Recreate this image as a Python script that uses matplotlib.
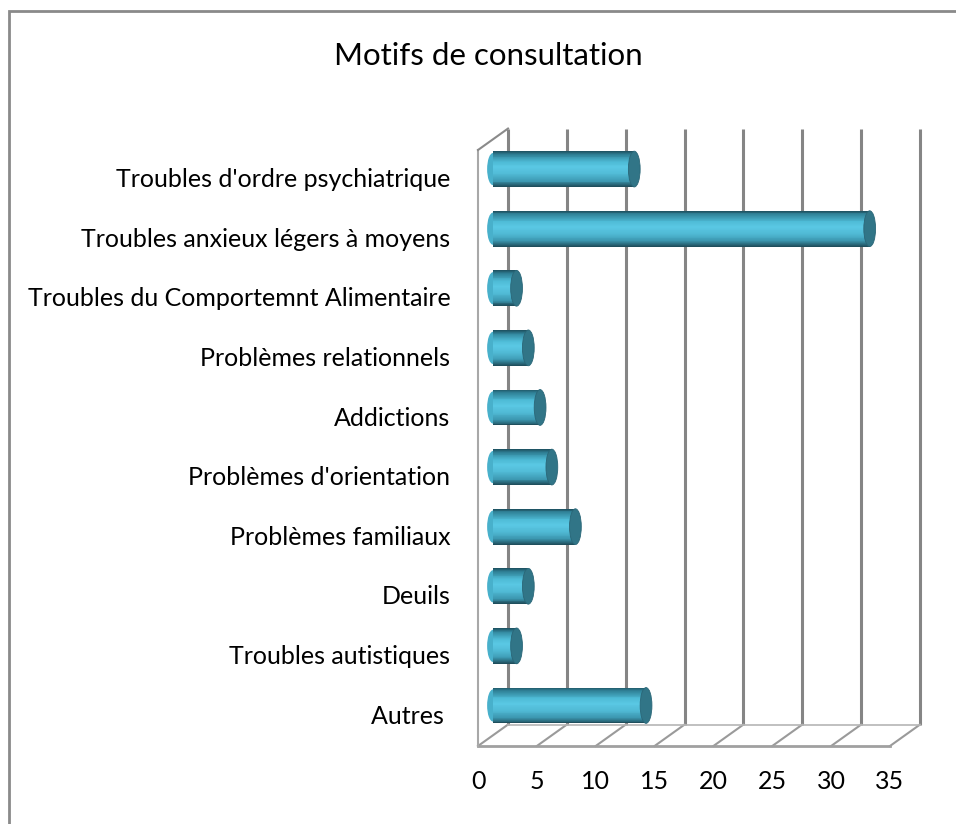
import matplotlib
matplotlib.use("Agg")
import matplotlib.pyplot as plt
from matplotlib.patches import Ellipse, Rectangle
from matplotlib.colors import LinearSegmentedColormap

# Data (bottom to top as drawn)
categories = ["Autres ", "Troubles autistiques", "Deuils", "Problèmes familiaux",
              "Problèmes d'orientation", "Addictions", "Problèmes relationnels",
              "Troubles du Comportemnt Alimentaire", "Troubles anxieux légers à moyens",
              "Troubles d'ordre psychiatrique"]
values = [13, 2, 3, 7, 5, 4, 3, 2, 32, 12]
ticks = [0, 5, 10, 15, 20, 25, 30, 35]

plt.rcParams['font.family'] = ['Lato', 'DejaVu Sans']

W, H = 956, 824
fig = plt.figure(figsize=(W / 100, H / 100), dpi=100)

# chart frame
fig.patches.append(Rectangle((9 / W, -0.1), 1.2, (H - 11) / H + 0.1, transform=fig.transFigure,
                             fill=False, edgecolor="#8a8a8a", linewidth=2))
fig.text(488 / W, 1 - 56 / H, "Motifs de consultation", ha="center", va="center", fontsize=22.5)

# front plane of the 3D box
ax = fig.add_axes([478 / W, 78 / H, 412 / W, 596 / H])
ax.set_xlim(0, 35)
ax.set_ylim(-0.5, len(categories) - 0.5)
ax.axis("off")

dx, dy = 2.55, 0.36   # depth offset (back wall vs. front)
ytop = len(categories) - 0.5
ybot = -0.5

# back wall gridlines
for t in ticks:
    ax.plot([t + dx, t + dx], [ybot + dy, ytop + dy], color="#858585", lw=2.2,
            clip_on=False, solid_capstyle="butt", zorder=1)
    ax.plot([t, t + dx], [ybot, ybot + dy], color="#9a9a9a", lw=1.5, clip_on=False, zorder=1)
# floor edges
ax.plot([0, 35], [ybot, ybot], color="#a0a0a0", lw=2, clip_on=False, zorder=1)
ax.plot([dx, 35 + dx], [ybot + dy, ybot + dy], color="#b5b5b5", lw=1.2, clip_on=False, zorder=1)
# left wall
ax.plot([0, 0], [ybot, ytop], color="#a8a8a8", lw=1.5, clip_on=False, zorder=1)
ax.plot([0, dx], [ytop, ytop + dy], color="#8a8a8a", lw=1.5, clip_on=False, zorder=1)

# cylinders
bar_h = 0.6
ex = 1.0  # ellipse width in value units
cyl = LinearSegmentedColormap.from_list(
    "cyl", [(0, "#1f5565"), (0.08, "#2f8096"), (0.3, "#4eBBd6"), (0.45, "#5ac8e4"),
            (0.65, "#50b9d4"), (0.85, "#3c97b0"), (1, "#1f4f5d")])
n = 40
for i, (cat, v) in enumerate(zip(categories, values)):
    yc = i + dy / 2
    x0 = dx / 2
    ax.add_patch(Ellipse((x0, yc), ex, bar_h * 0.9, facecolor="#48b0cb", edgecolor="none",
                         clip_on=False, zorder=3))
    sh = bar_h / n
    for k in range(n):
        ax.barh(yc + bar_h / 2 - sh * (k + 0.5), v, left=x0, height=sh * 1.05,
                color=cyl(k / (n - 1)), edgecolor="none", clip_on=False, zorder=4)
    ax.add_patch(Ellipse((x0 + v, yc), ex, bar_h, facecolor="#317587", edgecolor="#2a6677",
                         lw=0.6, clip_on=False, zorder=5))
    ax.text(-2.35, i, cat, ha="right", va="center", fontsize=18)

for t in ticks:
    ax.text(t, ybot - 0.6, str(t), ha="center", va="center", fontsize=18)

fig.savefig("out.png", dpi=100)
